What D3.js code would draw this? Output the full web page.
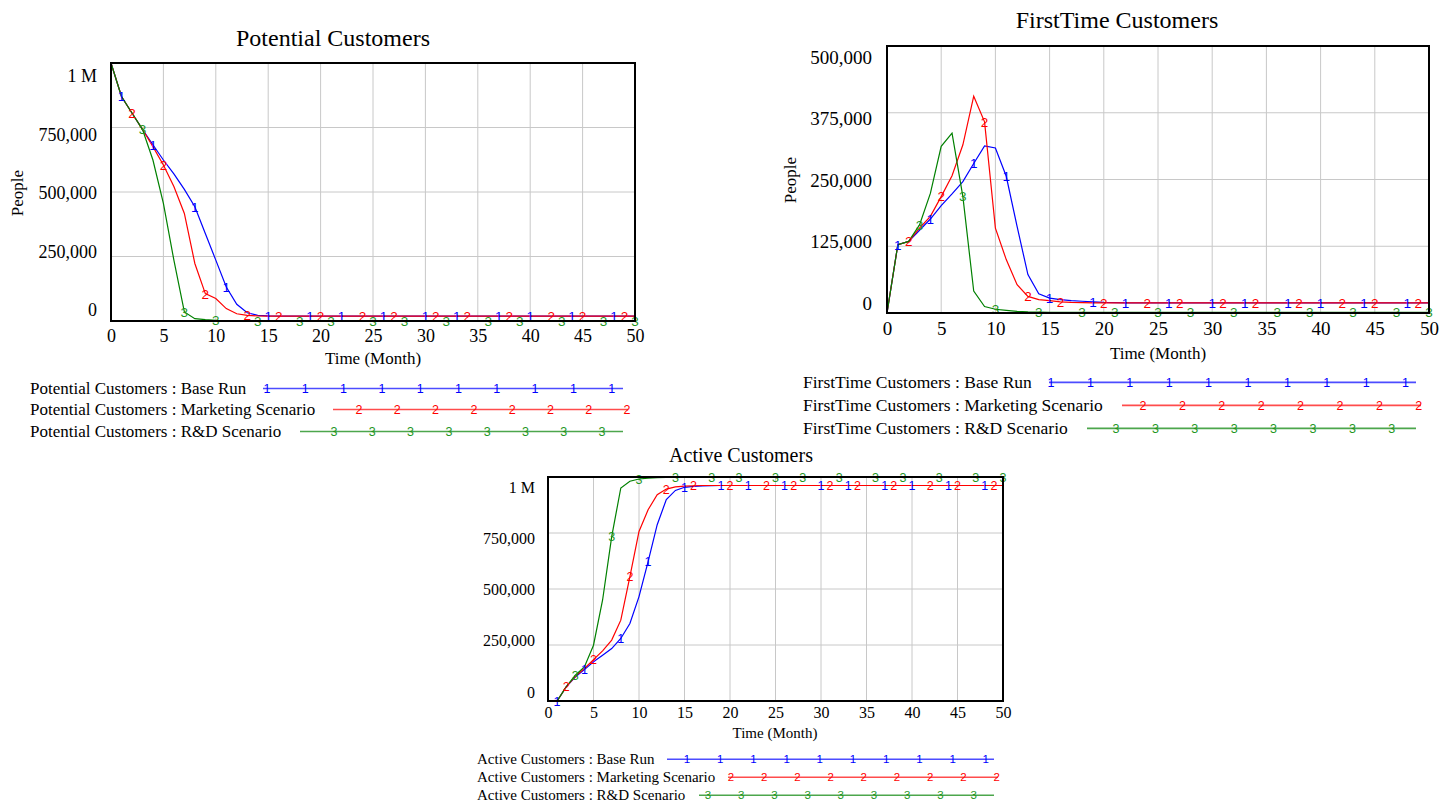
<!DOCTYPE html>
<html>
<head>
<meta charset="utf-8">
<script src="https://cdn.jsdelivr.net/npm/d3@7"></script>
<style>
  body { margin: 0; background: #fff; }
  svg { display: block; font-family: "Liberation Serif", "Times New Roman", serif; }
</style>
</head>
<body>
<script>
// months 0..50
const months = d3.range(0, 51);

const runNames = ['Base Run', 'Marketing Scenario', 'R&D Scenario'];
const runColors = ['#0000ff', '#ff0000', '#008000'];
const markerColors = ['#0000ff', '#ff0000', '#1e961e'];

// months where the run number is printed on the line
const marks1 = [1, 4, 8, 11, 15, 19, 22, 26, 30, 33, 37, 40, 44, 48];
const marks2 = [2, 5, 9, 13, 16, 20, 24, 27, 31, 34, 38, 42, 45, 49];
const marks3 = [3, 7, 10, 14, 18, 21, 25, 28, 32, 36, 39, 43, 47, 50];

const xTicks = [0, 5, 10, 15, 20, 25, 30, 35, 40, 45, 50];
const millionTicks = [0, 250000, 500000, 750000, 1000000];
const millionLabels = ['0', '250,000', '500,000', '750,000', '1 M'];
const halfTicks = [0, 125000, 250000, 375000, 500000];
const halfLabels = ['0', '125,000', '250,000', '375,000', '500,000'];

const potentialBase = [
  1000000, 870000, 806000, 743000, 683000, 624000, 570000, 510000, 443000, 339000,
  236000, 132000, 65000, 32000, 22000, 19500, 19200, 19100, 19000, 19000,
  19000, 19000, 19000, 19000, 19000, 19000, 19000, 19000, 19000, 19000,
  19000, 19000, 19000, 19000, 19000, 19000, 19000, 19000, 19000, 19000,
  19000, 19000, 19000, 19000, 19000, 19000, 19000, 19000, 19000, 19000,
  19000];
const potentialMarketing = [
  1000000, 870000, 806000, 743000, 676000, 605000, 521000, 417000, 223000, 106000,
  87000, 48000, 28000, 22000, 19500, 19200, 19100, 19000, 19000, 19000,
  19000, 19000, 19000, 19000, 19000, 19000, 19000, 19000, 19000, 19000,
  19000, 19000, 19000, 19000, 19000, 19000, 19000, 19000, 19000, 19000,
  19000, 19000, 19000, 19000, 19000, 19000, 19000, 19000, 19000, 19000,
  19000];
const potentialRD = [
  1000000, 870000, 806000, 743000, 624000, 456000, 236000, 35000, 9000, 5000,
  3000, 2000, 1500, 1200, 1000, 1000, 1000, 1000, 1000, 1000,
  1000, 1000, 1000, 1000, 1000, 1000, 1000, 1000, 1000, 1000,
  1000, 1000, 1000, 1000, 1000, 1000, 1000, 1000, 1000, 1000,
  1000, 1000, 1000, 1000, 1000, 1000, 1000, 1000, 1000, 1000,
  1000];

const firstBase = [
  0, 128000, 134000, 155000, 176000, 201000, 223000, 246000, 280000, 313000,
  309000, 256000, 162000, 72000, 36000, 28000, 25000, 23000, 22000, 21000,
  20000, 19500, 19000, 19000, 19000, 19000, 19000, 19000, 19000, 19000,
  19000, 19000, 19000, 19000, 19000, 19000, 19000, 19000, 19000, 19000,
  19000, 19000, 19000, 19000, 19000, 19000, 19000, 19000, 19000, 19000,
  19000];
const firstMarketing = [
  0, 128000, 134000, 159000, 181000, 218000, 257000, 315000, 406000, 358000,
  159000, 100000, 53000, 31000, 25000, 23000, 21000, 20000, 19500, 19000,
  19000, 19000, 19000, 19000, 19000, 19000, 19000, 19000, 19000, 19000,
  19000, 19000, 19000, 19000, 19000, 19000, 19000, 19000, 19000, 19000,
  19000, 19000, 19000, 19000, 19000, 19000, 19000, 19000, 19000, 19000,
  19000];
const firstRD = [
  0, 128000, 134000, 165000, 224000, 312000, 337000, 218000, 41000, 12000,
  7000, 5000, 3000, 2000, 1500, 1200, 1000, 1000, 1000, 1000,
  1000, 1000, 1000, 1000, 1000, 1000, 1000, 1000, 1000, 1000,
  1000, 1000, 1000, 1000, 1000, 1000, 1000, 1000, 1000, 1000,
  1000, 1000, 1000, 1000, 1000, 1000, 1000, 1000, 1000, 1000,
  1000];

const activeBase = [
  0, 0, 63000, 107000, 140000, 175000, 204000, 234000, 279000, 346000,
  466000, 622000, 787000, 899000, 940000, 954000, 958000, 960000, 961000, 962000,
  962000, 962000, 962000, 962000, 962000, 962000, 962000, 962000, 962000, 962000,
  962000, 962000, 962000, 962000, 962000, 962000, 962000, 962000, 962000, 962000,
  962000, 962000, 962000, 962000, 962000, 962000, 962000, 962000, 962000, 962000,
  962000];
const activeMarketing = [
  0, 0, 63000, 110000, 145000, 185000, 224000, 272000, 361000, 555000,
  757000, 854000, 921000, 946000, 956000, 959000, 961000, 962000, 962000, 962000,
  962000, 962000, 962000, 962000, 962000, 962000, 962000, 962000, 962000, 962000,
  962000, 962000, 962000, 962000, 962000, 962000, 962000, 962000, 962000, 962000,
  962000, 962000, 962000, 962000, 962000, 962000, 962000, 962000, 962000, 962000,
  962000];
const activeRD = [
  0, 0, 63000, 115000, 152000, 249000, 451000, 734000, 951000, 981000,
  991000, 995000, 997000, 998000, 999000, 999000, 999000, 999000, 999000, 999000,
  999000, 999000, 999000, 999000, 999000, 999000, 999000, 999000, 999000, 999000,
  999000, 999000, 999000, 999000, 999000, 999000, 999000, 999000, 999000, 999000,
  999000, 999000, 999000, 999000, 999000, 999000, 999000, 999000, 999000, 999000,
  999000];

const charts = [
  {
    name: 'Potential Customers',
    runs: [potentialBase, potentialMarketing, potentialRD],
    yTicks: millionTicks, yLabels: millionLabels,
    box: {left: 111, right: 635, top: 63, bottom: 321},
    labelInset: [13, 11], tickSize: 18, yPad: 14, xPad: 8, markSize: 13.5,
    title: {x: 333, y: 46, size: 24},
    xTitle: {x: 373, y: 364, size: 17},
    yTitle: {x: 23, y: 193, size: 17},
    legend: {x: 30, rows: [394, 415, 437], size: 17, markSize: 12.5,
      lineStart: [263, 333, 300], lineEnd: [623, 628, 623], markStart: [267, 359, 334], step: 38.3}
  },
  {
    name: 'FirstTime Customers',
    runs: [firstBase, firstMarketing, firstRD],
    yTicks: halfTicks, yLabels: halfLabels,
    box: {left: 887, right: 1429, top: 46, bottom: 313},
    labelInset: [11, 10], tickSize: 19, yPad: 15, xPad: 9, markSize: 13.5,
    title: {x: 1117, y: 28, size: 24},
    xTitle: {x: 1158, y: 359, size: 17},
    yTitle: {x: 796, y: 180, size: 17},
    legend: {x: 803, rows: [388, 411, 434], size: 17.5, markSize: 12.5,
      lineStart: [1049, 1122, 1087], lineEnd: [1416, 1421, 1416], markStart: [1051, 1143, 1116], step: 39.4}
  },
  {
    name: 'Active Customers',
    runs: [activeBase, activeMarketing, activeRD],
    yTicks: millionTicks, yLabels: millionLabels,
    box: {left: 548, right: 1003, top: 477, bottom: 701},
    labelInset: [10, 9], tickSize: 16, yPad: 13, xPad: 6, markSize: 12.5,
    title: {x: 741, y: 462, size: 20},
    xTitle: {x: 775, y: 738, size: 15},
    yTitle: null,
    legend: {x: 477, rows: [764, 782, 800], size: 15, markSize: 11.5,
      lineStart: [667, 728, 699], lineEnd: [994, 998, 994], markStart: [687, 731, 708], step: 33.2}
  }
];

const markMonths = [marks1, marks2, marks3];

const svg = d3.select('body').append('svg')
  .attr('width', 1439)
  .attr('height', 804);

function drawChart(c) {
  const b = c.box;
  const yMax = c.yTicks[c.yTicks.length - 1];
  const x = d3.scaleLinear().domain([0, 50]).range([b.left, b.right]);
  const y = d3.scaleLinear().domain([0, yMax]).range([b.bottom, b.top]);
  // tick labels sit a little inside the frame, like the original tool
  const yLab = d3.scaleLinear().domain([0, yMax])
    .range([b.bottom - c.labelInset[1], b.top + c.labelInset[0]]);

  const g = svg.append('g');

  // grid
  g.selectAll('.vgrid').data(xTicks).enter().append('line')
    .attr('x1', d => x(d)).attr('x2', d => x(d))
    .attr('y1', b.top).attr('y2', b.bottom)
    .attr('stroke', '#c8c8c8').attr('stroke-width', 1);
  g.selectAll('.hgrid').data(c.yTicks).enter().append('line')
    .attr('x1', b.left).attr('x2', b.right)
    .attr('y1', d => y(d)).attr('y2', d => y(d))
    .attr('stroke', '#c8c8c8').attr('stroke-width', 1);

  // axes (labels only)
  const xAxis = d3.axisBottom(x).tickValues(xTicks).tickSize(0).tickPadding(c.xPad);
  const yAxis = d3.axisLeft(yLab).tickValues(c.yTicks).tickSize(0).tickPadding(c.yPad)
    .tickFormat((d, i) => c.yLabels[i]);

  const gx = g.append('g').attr('transform', 'translate(0,' + b.bottom + ')').call(xAxis);
  const gy = g.append('g').attr('transform', 'translate(' + b.left + ',0)').call(yAxis);
  [gx, gy].forEach(a => {
    a.select('.domain').remove();
    a.selectAll('text')
      .attr('font-family', '"Liberation Serif", "Times New Roman", serif')
      .attr('font-size', c.tickSize)
      .attr('fill', '#000');
  });

  // lines
  const line = d3.line().x((d, i) => x(months[i])).y(d => y(d));
  c.runs.forEach((run, k) => {
    g.append('path')
      .datum(run)
      .attr('d', line)
      .attr('fill', 'none')
      .attr('stroke', runColors[k])
      .attr('stroke-width', 1.2);
  });

  // run numbers on the lines
  c.runs.forEach((run, k) => {
    g.selectAll('.mk' + k).data(markMonths[k]).enter().append('text')
      .attr('x', m => x(m))
      .attr('y', m => y(run[m]))
      .attr('dy', '0.36em')
      .attr('text-anchor', 'middle')
      .attr('font-family', '"Liberation Sans", Arial, sans-serif')
      .attr('font-size', c.markSize)
      .attr('fill', markerColors[k])
      .text(k + 1);
  });

  // frame
  g.append('rect')
    .attr('x', b.left).attr('y', b.top)
    .attr('width', b.right - b.left).attr('height', b.bottom - b.top)
    .attr('fill', 'none').attr('stroke', '#000').attr('stroke-width', 2);

  // titles
  g.append('text')
    .attr('x', c.title.x).attr('y', c.title.y)
    .attr('text-anchor', 'middle').attr('font-size', c.title.size)
    .text(c.name);
  g.append('text')
    .attr('x', c.xTitle.x).attr('y', c.xTitle.y)
    .attr('text-anchor', 'middle').attr('font-size', c.xTitle.size)
    .text('Time (Month)');
  if (c.yTitle) {
    g.append('text')
      .attr('transform', 'translate(' + c.yTitle.x + ',' + c.yTitle.y + ') rotate(-90)')
      .attr('text-anchor', 'middle').attr('font-size', c.yTitle.size)
      .text('People');
  }

  // legend
  const L = c.legend;
  runNames.forEach((rn, k) => {
    const ly = L.rows[k];
    g.append('text')
      .attr('x', L.x).attr('y', ly)
      .attr('font-size', L.size)
      .text(c.name + ' : ' + rn);
    g.append('line')
      .attr('x1', L.lineStart[k]).attr('x2', L.lineEnd[k])
      .attr('y1', ly - L.size * 0.32).attr('y2', ly - L.size * 0.32)
      .attr('stroke', runColors[k]).attr('stroke-opacity', 0.7).attr('stroke-width', 1.6);
    const pos = [];
    for (let p = L.markStart[k]; p <= L.lineEnd[k] + 2; p += L.step) pos.push(p);
    g.selectAll('.lm' + k).data(pos).enter().append('text')
      .attr('x', p => p).attr('y', ly - L.size * 0.32)
      .attr('dy', '0.36em')
      .attr('text-anchor', 'middle')
      .attr('font-family', '"Liberation Sans", Arial, sans-serif')
      .attr('font-size', L.markSize)
      .attr('fill', markerColors[k])
      .text(k + 1);
  });
}

charts.forEach(drawChart);
</script>
</body>
</html>
